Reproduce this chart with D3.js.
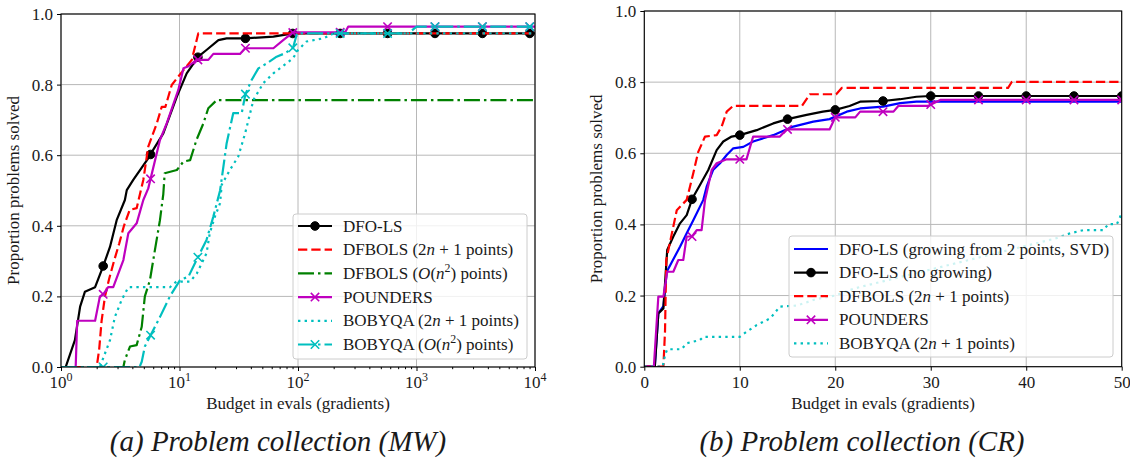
<!DOCTYPE html>
<html><head><meta charset="utf-8">
<script src="https://cdn.jsdelivr.net/npm/d3@7"></script>
<style>
body{margin:0;background:#fff}
svg{display:block}
</style>
</head><body><svg id="c" width="1130" height="467" font-family="'Liberation Serif', 'DejaVu Serif', serif"></svg>
<script>
// ---------------- DATA ----------------
const yTicks = [0, 0.2, 0.4, 0.6, 0.8, 1.0];
const mwXTicks = [1, 10, 100, 1000, 10000];
const mwXTickExp = ["0", "1", "2", "3", "4"];
const crXTicks = [0, 10, 20, 30, 40, 50];
const mwMarkerX = [2.27, 5.7, 14.3, 36, 90.4, 227, 570, 1432, 3597, 9036];
const crMarkerX = [5, 10, 15, 20, 25, 30, 35, 40, 45, 50];

// (a) MW collection: [budget, proportion]
const mwDFOLS = [[1,0],[1.095,0],[1.31,0.076],[1.45,0.171],[1.59,0.213],[1.94,0.226],[2.27,0.286],[2.59,0.34],[2.95,0.416],[3.46,0.473],[3.59,0.501],[4.07,0.53],[5.63,0.598],[5.75,0.605],[7.3,0.662],[9.5,0.766],[11.5,0.832],[14.4,0.879],[16.9,0.898],[21.3,0.926],[25,0.931],[36,0.931],[62,0.936],[91,0.945],[10000,0.945]];
const mwDFBOLS2n = [[1,0],[2.0,0],[2.1,0.05],[2.2,0.13],[2.35,0.2],[2.55,0.25],[2.8,0.3],[3.1,0.35],[3.4,0.4],[3.8,0.445],[4.35,0.45],[4.95,0.53],[5.45,0.624],[6.43,0.69],[7.08,0.737],[7.6,0.737],[8.6,0.799],[10.8,0.841],[12.7,0.87],[14.4,0.945],[10000,0.945]];
const mwDFBOLSn2 = [[1,0],[3.36,0],[3.46,0.02],[3.82,0.058],[4.35,0.062],[4.8,0.114],[5.1,0.2],[5.63,0.246],[6.2,0.331],[6.84,0.416],[7.3,0.49],[7.5,0.549],[9.5,0.558],[10.8,0.582],[12.3,0.586],[13.9,0.643],[15.9,0.69],[17.5,0.733],[20.6,0.756],[10000,0.756]];
const mwPOUNDERS = [[1,0],[1.33,0],[1.37,0.131],[1.94,0.131],[2.13,0.2],[2.27,0.206],[2.5,0.226],[2.76,0.226],[3.36,0.303],[3.7,0.379],[4.35,0.407],[4.95,0.473],[5.45,0.506],[6.84,0.643],[7.8,0.69],[9.77,0.785],[10.8,0.846],[11.9,0.852],[13.9,0.87],[17.5,0.87],[19.3,0.887],[32.4,0.887],[35.8,0.903],[62,0.903],[75,0.926],[91,0.948],[250,0.948],[265,0.964],[10000,0.964]];
const mwBOBYQA2n = [[1,0],[2.13,0],[2.3,0.03],[2.59,0.076],[2.85,0.142],[3.25,0.19],[3.7,0.226],[8.3,0.226],[9.4,0.242],[12.3,0.242],[14,0.265],[16.9,0.322],[18,0.379],[19.9,0.426],[22,0.464],[22.7,0.516],[26.6,0.558],[31.3,0.596],[35.8,0.662],[42,0.756],[50.9,0.804],[62,0.832],[80,0.86],[91,0.875],[100,0.898],[118,0.922],[163,0.931],[200,0.945],[10000,0.945]];
const mwBOBYQAn2 = [[1,0],[4.6,0],[4.8,0.015],[5.1,0.058],[5.8,0.095],[6.85,0.142],[8.3,0.2],[10.1,0.246],[11.9,0.256],[13.5,0.294],[14.6,0.317],[16.9,0.36],[19.3,0.426],[22,0.5],[25,0.634],[28.4,0.719],[33.5,0.719],[36,0.773],[40.6,0.813],[46.3,0.846],[54.5,0.86],[66,0.879],[78,0.889],[91,0.905],[98,0.945],[850,0.945],[1000,0.964],[10000,0.964]];

// (b) CR collection
const crDFOLSgrow = [[0,0],[1.1,0],[1.47,0.15],[2.0,0.17],[2.35,0.267],[3.0,0.3],[3.74,0.337],[4.44,0.375],[5.13,0.412],[6.18,0.469],[6.53,0.506],[7.2,0.553],[7.93,0.572],[8.63,0.595],[9.32,0.614],[10.37,0.618],[11.4,0.633],[13.5,0.651],[15.6,0.675],[17.7,0.689],[19.4,0.696],[21.2,0.717],[22.6,0.726],[25,0.731],[26.8,0.741],[28.5,0.745],[50,0.745]];
const crDFOLS = [[0,0],[1.1,0],[1.47,0.15],[2.0,0.164],[2.4,0.328],[3.04,0.366],[3.74,0.403],[4.44,0.426],[5.03,0.473],[5.83,0.511],[6.7,0.553],[7.58,0.609],[8.27,0.633],[9.15,0.647],[10,0.651],[11.77,0.665],[13.5,0.684],[15,0.696],[17,0.708],[18.7,0.717],[20,0.722],[21.5,0.733],[22.6,0.745],[25,0.747],[26.8,0.752],[28.5,0.759],[30,0.761],[50,0.761]];
const crDFBOLS2n = [[0,0],[2.0,0],[2.17,0.1],[2.3,0.3],[3.4,0.44],[4.44,0.469],[5.13,0.544],[5.65,0.604],[6.36,0.647],[7.58,0.651],[8.1,0.675],[8.63,0.717],[9.3,0.733],[16.5,0.733],[17.35,0.766],[20.1,0.766],[20.7,0.784],[38.1,0.784],[38.5,0.801],[50,0.801]];
const crPOUNDERS = [[0,0],[1.0,0],[1.47,0.197],[2.0,0.197],[2.4,0.267],[3.04,0.267],[3.56,0.3],[4.08,0.3],[4.44,0.366],[5.0,0.366],[5.49,0.384],[6.0,0.384],[6.36,0.469],[6.53,0.488],[7.06,0.553],[7.58,0.572],[8.63,0.583],[10.7,0.583],[11.4,0.647],[14.2,0.647],[14.9,0.667],[19.4,0.667],[20.0,0.701],[22.1,0.701],[22.6,0.717],[26.1,0.717],[26.6,0.733],[29.7,0.733],[31,0.75],[50,0.75]];
const crBOBYQA2n = [[0,0],[1.93,0],[2.17,0.033],[2.4,0.049],[3.9,0.049],[4.44,0.066],[5.83,0.075],[6.18,0.084],[10,0.084],[10.7,0.098],[11.77,0.117],[13.2,0.136],[14.2,0.169],[16,0.172],[18,0.19],[20,0.2],[22,0.22],[25,0.24],[28,0.26],[31,0.28],[34,0.3],[37,0.32],[40,0.34],[43,0.36],[44.6,0.375],[46,0.384],[48.1,0.384],[48.6,0.401],[49.5,0.401],[50,0.431]];

const xLabel = "Budget in evals (gradients)";
const yLabel = "Proportion problems solved";
const captions = ["(a) Problem collection (MW)", "(b) Problem collection (CR)"];

// legend labels as runs: [text, style] style: "" normal, "i" italic, "s" superscript
const lbl = {
  dfols: [["DFO-LS",""]],
  dfolsGrow: [["DFO-LS (growing from 2 points, SVD)",""]],
  dfolsNo: [["DFO-LS (no growing)",""]],
  dfbols2n: [["DFBOLS (2",""],["n","i"],[" + 1 points)",""]],
  dfbolsn2: [["DFBOLS (",""],["O","i"],["(",""],["n","i"],["2","s"],[") points)",""]],
  pounders: [["POUNDERS",""]],
  bobyqa2n: [["BOBYQA (2",""],["n","i"],[" + 1 points)",""]],
  bobyqan2: [["BOBYQA (",""],["O","i"],["(",""],["n","i"],["2","s"],[") points)",""]]
};

// ---------------- STYLES ----------------
const FONT = "'Liberation Serif', 'DejaVu Serif', serif";
const TXT = "#1a1a1a";
const FS = 17;
const LW = 2.2;
const DASH = {solid:null, dashed:"9.3,4", dashdot:"16,4,2.5,4", dotted:"2.4,4.2"};
const COL = {k:"#000000", r:"#ff0000", g:"#008000", m:"#bf00bf", c:"#00bfbf", b:"#0000ff"};

const svg = d3.select("#c");
svg.append("rect").attr("width",1130).attr("height",467).attr("fill","#fff");

function addRuns(textSel, runs, fs){
  let lastSup = false;
  runs.forEach(([t,s]) => {
    const ts = textSel.append("tspan").text(t).attr("font-family",FONT);
    if (s === "i") ts.attr("font-style","italic");
    if (s === "s") { ts.attr("font-size", fs*0.7).attr("dy", -fs*0.4); }
    else if (lastSup) ts.attr("dy", fs*0.4);
    lastSup = (s === "s");
  });
}

function markerPath(g, type, x, y, color){
  if (type === "o") {
    g.append("circle").attr("cx",x).attr("cy",y).attr("r",4.3).attr("fill",color).attr("stroke",color);
  } else if (type === "x") {
    const s = 4.2;
    g.append("path").attr("d",`M${x-s},${y-s}L${x+s},${y+s}M${x-s},${y+s}L${x+s},${y-s}`)
      .attr("stroke",color).attr("stroke-width",1.6).attr("fill","none");
  }
}

function yAtPx(data, xs, ys, x){
  const px = xs(x);
  for (let i=0;i<data.length-1;i++){
    const a = xs(data[i][0]), b = xs(data[i+1][0]);
    if (px >= a && px <= b){
      const t = b===a ? 1 : (px-a)/(b-a);
      return ys(data[i][1]) + t*(ys(data[i+1][1]) - ys(data[i][1]));
    }
  }
  return ys(data[data.length-1][1]);
}

function styleAxisText(sel){
  sel.attr("font-family", null).attr("font-size", null);
  sel.selectAll("text").attr("font-size",FS).attr("font-family",FONT).attr("fill",TXT);
}

function panel(cfg){
  const {id, x0, x1, y0, y1, xs, series, markerX, legend} = cfg;
  const ys = d3.scaleLinear().domain([0,1]).range([y1,y0]);
  const g = svg.append("g");
  svg.append("clipPath").attr("id","clip"+id).append("rect")
    .attr("x",x0).attr("y",y0).attr("width",x1-x0).attr("height",y1-y0);
  // grid
  const grid = g.append("g").attr("stroke","#b8b8b8").attr("stroke-width",1);
  yTicks.forEach(v => grid.append("line").attr("x1",x0).attr("x2",x1).attr("y1",ys(v)).attr("y2",ys(v)));
  cfg.xTicks.forEach(v => grid.append("line").attr("x1",xs(v)).attr("x2",xs(v)).attr("y1",y0).attr("y2",y1));
  // series
  const plot = g.append("g").attr("clip-path",`url(#clip${id})`);
  series.forEach(s => {
    const line = d3.line().x(d=>xs(d[0])).y(d=>ys(d[1]));
    plot.append("path").attr("d",line(s.data)).attr("fill","none")
      .attr("stroke",s.color).attr("stroke-width",LW)
      .attr("stroke-dasharray",DASH[s.dash]).attr("stroke-linejoin","round");
    if (s.marker) markerX.forEach(mx => markerPath(plot, s.marker, xs(mx), yAtPx(s.data,xs,ys,mx), s.color));
  });
  // spines
  g.append("rect").attr("x",x0).attr("y",y0).attr("width",x1-x0).attr("height",y1-y0)
    .attr("fill","none").attr("stroke","#000").attr("stroke-width",1.1);
  // y axis
  const ya = g.append("g").attr("transform",`translate(${x0},0)`)
    .call(d3.axisLeft(ys).tickValues(yTicks).tickFormat(d3.format(".1f")).tickSize(4).tickPadding(4));
  ya.select(".domain").remove();
  styleAxisText(ya);
  // x axis
  const xa = g.append("g").attr("transform",`translate(0,${y1})`)
    .call(d3.axisBottom(xs).tickValues(cfg.xTicks).tickFormat(cfg.xFormat ? "" : d3.format("d")).tickSize(4).tickPadding(5));
  xa.select(".domain").remove();
  styleAxisText(xa);
  if (cfg.minor){
    const xm = g.append("g").attr("transform",`translate(0,${y1})`)
      .call(d3.axisBottom(xs).tickValues(cfg.minor).tickFormat("").tickSize(2.2));
    xm.select(".domain").remove();
  }
  if (cfg.xFormat){
    cfg.xTicks.forEach((v,i) => {
      const t = g.append("text").attr("x",xs(v)).attr("y",y1+21).attr("text-anchor","middle")
        .attr("font-size",FS).attr("font-family",FONT).attr("fill",TXT);
      t.append("tspan").text("10");
      t.append("tspan").text(cfg.xFormat[i]).attr("font-size",12).attr("dy",-7);
    });
  }
  // labels
  g.append("text").attr("x",(x0+x1)/2).attr("y",y1+42).attr("text-anchor","middle")
    .attr("font-size",FS).attr("font-family",FONT).attr("fill",TXT).text(xLabel);
  g.append("text").attr("transform",`translate(${cfg.ylabX},${(y0+y1)/2}) rotate(-90)`)
    .attr("text-anchor","middle").attr("font-size",FS).attr("font-family",FONT).attr("fill",TXT).text(yLabel);
  // legend
  const L = legend;
  const lg = g.append("g");
  lg.append("rect").attr("x",L.x).attr("y",L.y).attr("width",L.w).attr("height",L.h).attr("rx",3)
    .attr("fill","#fff").attr("fill-opacity",0.8).attr("stroke","#cccccc").attr("stroke-width",1);
  series.forEach((s,i) => {
    const cy = L.y + L.first + i*L.step;
    lg.append("line").attr("x1",L.x+5).attr("x2",L.x+39).attr("y1",cy).attr("y2",cy)
      .attr("stroke",s.color).attr("stroke-width",LW).attr("stroke-dasharray",DASH[s.dash]);
    if (s.marker) markerPath(lg, s.marker, L.x+22, cy, s.color);
    const t = lg.append("text").attr("x",L.x+50).attr("y",cy+5.5)
      .attr("font-size",FS).attr("font-family",FONT).attr("fill",TXT);
    addRuns(t, s.label, FS);
  });
  // caption
  svg.append("text").attr("x",cfg.capX).attr("y",451).attr("text-anchor","middle")
    .attr("font-size",29).attr("font-style","italic").attr("font-family",FONT).attr("fill",TXT).text(cfg.caption);
}

// panel (a)
const mwX = d3.scaleLog().domain([1,10000]).range([61,535]);
const mwMinor = [];
for (let e=0;e<4;e++) for (let k=2;k<10;k++) mwMinor.push(k*Math.pow(10,e));
panel({
  id:"a", x0:61, x1:535, y0:14, y1:367, xs:mwX, xTicks:mwXTicks, xFormat:mwXTickExp, minor:mwMinor,
  markerX: mwMarkerX, ylabX:19, capX:278, caption:captions[0],
  series:[
    {data:mwDFOLS, color:COL.k, dash:"solid", marker:"o", label:lbl.dfols},
    {data:mwDFBOLS2n, color:COL.r, dash:"dashed", marker:null, label:lbl.dfbols2n},
    {data:mwDFBOLSn2, color:COL.g, dash:"dashdot", marker:null, label:lbl.dfbolsn2},
    {data:mwPOUNDERS, color:COL.m, dash:"solid", marker:"x", label:lbl.pounders},
    {data:mwBOBYQA2n, color:COL.c, dash:"dotted", marker:null, label:lbl.bobyqa2n},
    {data:mwBOBYQAn2, color:COL.c, dash:"dashdot", marker:"x", label:lbl.bobyqan2}
  ],
  legend:{x:293, y:214, w:234, h:145, first:12, step:23.7}
});

// panel (b)
const crX = d3.scaleLinear().domain([0,50]).range([644.3,1121.7]);
panel({
  id:"b", x0:644.3, x1:1121.7, y0:11, y1:366.7, xs:crX, xTicks:crXTicks, xFormat:null, minor:null,
  markerX: crMarkerX, ylabX:602, capX:862, caption:captions[1],
  series:[
    {data:crDFOLSgrow, color:COL.b, dash:"solid", marker:null, label:lbl.dfolsGrow},
    {data:crDFOLS, color:COL.k, dash:"solid", marker:"o", label:lbl.dfolsNo},
    {data:crDFBOLS2n, color:COL.r, dash:"dashed", marker:null, label:lbl.dfbols2n},
    {data:crPOUNDERS, color:COL.m, dash:"solid", marker:"x", label:lbl.pounders},
    {data:crBOBYQA2n, color:COL.c, dash:"dotted", marker:null, label:lbl.bobyqa2n}
  ],
  legend:{x:789, y:236, w:324, h:121, first:13, step:23.6}
});
</script>
</body></html>
